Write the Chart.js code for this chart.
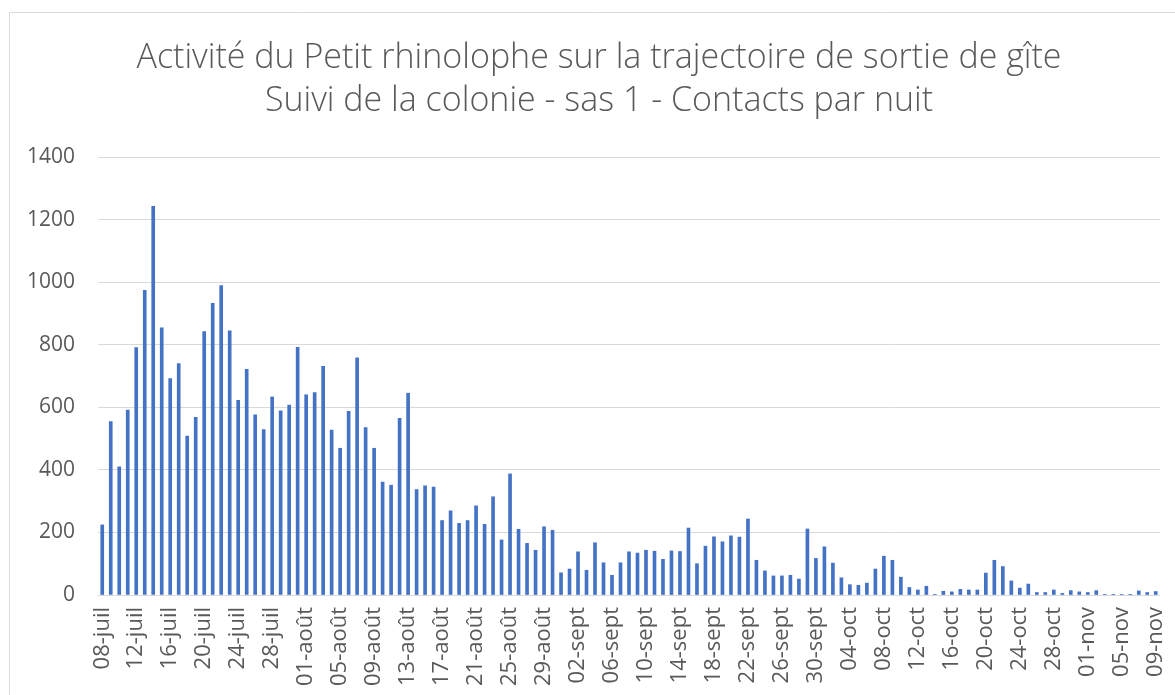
<!DOCTYPE html>
<html>
<head>
<meta charset="utf-8">
<script src="https://cdn.jsdelivr.net/npm/chart.js@4.4.1/dist/chart.umd.min.js"></script>
<style>
  html, body { margin: 0; padding: 0; background: #fff; }
  canvas { display: block; }
</style>
</head>
<body>
<canvas id="chart" width="1175" height="695"></canvas>
<script>
/* Petit rhinolophe — contacts par nuit, one bar per night (08-juil → 09-nov) */
const titleLines = [
  'Activité du Petit rhinolophe sur la trajectoire de sortie de gîte',
  'Suivi de la colonie - sas 1 - Contacts par nuit'
];

const days = [
  '08-juil','09-juil','10-juil','11-juil','12-juil','13-juil','14-juil','15-juil','16-juil','17-juil','18-juil','19-juil',
  '20-juil','21-juil','22-juil','23-juil','24-juil','25-juil','26-juil','27-juil','28-juil','29-juil','30-juil','31-juil',
  '01-août','02-août','03-août','04-août','05-août','06-août','07-août','08-août','09-août','10-août','11-août','12-août',
  '13-août','14-août','15-août','16-août','17-août','18-août','19-août','20-août','21-août','22-août','23-août','24-août',
  '25-août','26-août','27-août','28-août','29-août','30-août','31-août',
  '01-sept','02-sept','03-sept','04-sept','05-sept','06-sept','07-sept','08-sept','09-sept','10-sept','11-sept','12-sept',
  '13-sept','14-sept','15-sept','16-sept','17-sept','18-sept','19-sept','20-sept','21-sept','22-sept','23-sept','24-sept',
  '25-sept','26-sept','27-sept','28-sept','29-sept','30-sept',
  '01-oct','02-oct','03-oct','04-oct','05-oct','06-oct','07-oct','08-oct','09-oct','10-oct','11-oct','12-oct',
  '13-oct','14-oct','15-oct','16-oct','17-oct','18-oct','19-oct','20-oct','21-oct','22-oct','23-oct','24-oct',
  '25-oct','26-oct','27-oct','28-oct','29-oct','30-oct','31-oct',
  '01-nov','02-nov','03-nov','04-nov','05-nov','06-nov','07-nov','08-nov','09-nov'
];

// contacts per night, month by month
const contactsJuil = [224, 554, 410, 591, 791, 974, 1242, 854, 692, 740, 508, 568, 842, 932, 989, 844, 622, 721, 576, 529, 633, 589, 607, 792];
const contactsAout = [640, 647, 731, 527, 469, 587, 758, 535, 469, 361, 351, 565, 645, 337, 349, 345, 238, 269, 229, 238, 285, 226, 314, 176, 387, 210, 165, 143, 218, 207, 71];
const contactsSept = [83, 138, 79, 167, 103, 63, 103, 138, 134, 143, 140, 114, 141, 139, 214, 100, 156, 186, 170, 189, 185, 243, 111, 77, 61, 61, 63, 51, 211, 117];
const contactsOct  = [154, 102, 55, 33, 31, 38, 83, 124, 111, 57, 24, 16, 28, 2, 12, 10, 18, 16, 16, 70, 111, 91, 45, 22, 35, 8, 8, 16, 5, 14, 10];
const contactsNov  = [8, 14, 2, 1, 2, 1, 13, 8, 11];
const contacts = [...contactsJuil, ...contactsAout, ...contactsSept, ...contactsOct, ...contactsNov];

const yTicks = [0, 200, 400, 600, 800, 1000, 1200, 1400];
const labelEvery = 4;

const textGrey = '#595959', gridGrey = '#d9d9d9', barBlue = '#4472c4';
const fontFamily = '"Open Sans", "Noto Sans", sans-serif';

// white page + the chart frame (only its left/top edges fall inside the shot)
const framePlugin = {
  id: 'frame',
  beforeDraw(chart) {
    const { ctx, width, height } = chart;
    ctx.save();
    ctx.fillStyle = '#fff';
    ctx.fillRect(0, 0, width, height);
    ctx.strokeStyle = gridGrey; ctx.lineWidth = 1;
    ctx.beginPath();
    ctx.moveTo(9.5, height); ctx.lineTo(9.5, 12.5); ctx.lineTo(width, 12.5);
    ctx.stroke();
    ctx.restore();
  }
};

// two-line centred title, fixed baselines like the Excel original
const titlePlugin = {
  id: 'twoLineTitle',
  afterDraw(chart) {
    const { ctx } = chart;
    ctx.save();
    ctx.fillStyle = textGrey;
    ctx.font = `300 34px ${fontFamily}`;
    ctx.textAlign = 'center'; ctx.textBaseline = 'alphabetic';
    ctx.fillText(titleLines[0], 599, 68);
    ctx.fillText(titleLines[1], 599, 111);
    ctx.restore();
  }
};

new Chart(document.getElementById('chart'), {
  type: 'bar',
  data: {
    labels: days,
    datasets: [{ data: contacts, backgroundColor: barBlue, barThickness: 3 }]
  },
  options: {
    responsive: false,
    animation: false,
    devicePixelRatio: 1,
    layout: { padding: { left: 0, right: 15, top: 157, bottom: 0 } },
    plugins: { legend: { display: false }, title: { display: false }, tooltip: { enabled: false } },
    scales: {
      x: {
        grid: { display: false },
        border: { display: false },
        // full plot width for the categories (no extra room for the rotated end labels)
        afterFit: (s) => { s.height = 100; s.paddingLeft = 0; s.paddingRight = 0; },
        ticks: {
          autoSkip: false, maxRotation: 90, minRotation: 90, padding: 4,
          color: textGrey, font: { family: fontFamily, size: 22 },
          callback: (v, i) => (i % labelEvery === 0 ? days[i] : '')
        }
      },
      y: {
        min: 0, max: 1400,
        afterFit: (s) => { s.width = 98; },
        afterBuildTicks: (s) => { s.ticks = yTicks.map((v) => ({ value: v })); },
        grid: { color: gridGrey, lineWidth: 1, drawTicks: false },
        border: { display: false },
        ticks: { padding: 23, color: textGrey, font: { family: fontFamily, size: 21 }, callback: (v) => String(v) }
      }
    }
  },
  plugins: [framePlugin, titlePlugin]
});
</script>
</body>
</html>
